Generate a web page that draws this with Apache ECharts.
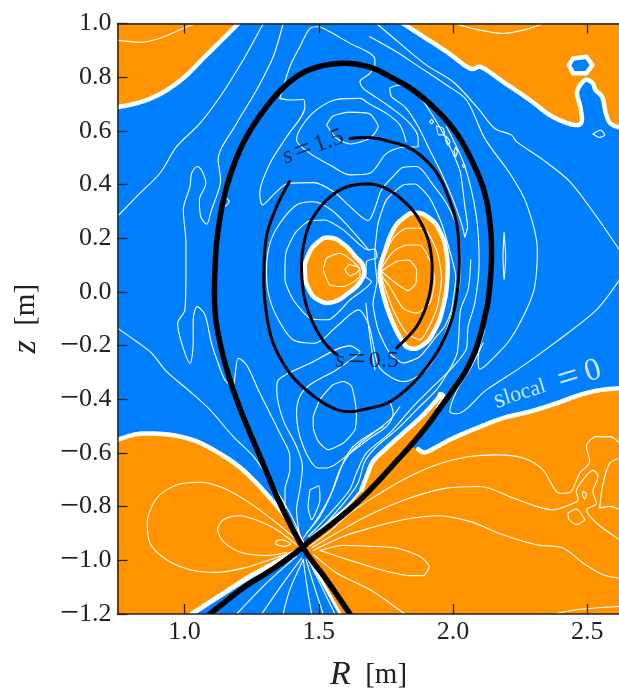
<!DOCTYPE html>
<html><head><meta charset="utf-8">
<style>html,body{margin:0;padding:0;background:#fff;overflow:hidden}#c{width:619px;height:688px}</style>
<script src="https://cdn.jsdelivr.net/npm/echarts@6/dist/echarts.min.js"></script>
</head><body><div id="c"></div>
<script>
const xTicks=[1.0,1.5,2.0,2.5];
const sliverCorner=[[1.437,-.95],[1.467,-.927],[1.553,-.861],[1.641,-.787],[1.715,-.712],[1.777,-.644],[1.839,-.576],[1.901,-.502],[1.945,-.43]];
const wTopLeft=[[.75,.688],[.821,.703],[.883,.725],[.945,.759],[1.008,.808],[1.069,.87],[1.132,.932],[1.2,1.0]];
const wTopRight=[[1.814,1.0],[1.889,.951],[1.976,.895],[2.062,.833],[2.106,.837],[2.186,.783],[2.286,.715],[2.36,.659],[2.422,.63],[2.466,.622],[2.48,.641],[2.474,.69],[2.462,.746],[2.491,.789],[2.519,.779],[2.531,.752],[2.556,.725],[2.569,.667],[2.586,.628],[2.62,.613]];
const wHole=[[2.447,.87],[2.497,.876],[2.519,.845],[2.497,.815],[2.447,.815],[2.431,.845]];
const wLowLeftTop=[[.75,-.551],[.821,-.53],[.896,-.528],[.97,-.536],[1.045,-.557],[1.119,-.595],[1.194,-.644],[1.256,-.7],[1.318,-.768],[1.38,-.843],[1.436,-.93]];
const wLowLeftBot=[[1.417,-.967],[1.243,-1.06],[1.026,-1.2]];
const wLowRight=[[2.62,-.359],[2.546,-.366],[2.472,-.384],[2.385,-.415],[2.286,-.446],[2.186,-.47],[2.087,-.508],[2.0,-.545],[1.938,-.578],[1.895,-.598],[1.87,-.586]];
const wLegRight=[[1.45,-.97],[1.58,-1.2]];
const wSliver=[[1.945,-.43],[1.965,-.392],[1.952,-.381],[1.944,-.396],[1.889,-.458],[1.814,-.526],[1.752,-.582],[1.702,-.632],[1.678,-.688],[1.659,-.737]];
const wSliverThin=[[1.659,-.737],[1.603,-.8],[1.516,-.874],[1.467,-.916]];
const lobeLeft=[[1.448,.07],[1.458,.131],[1.498,.187],[1.541,.202],[1.591,.179],[1.634,.134],[1.668,.088],[1.655,.038],[1.609,-.005],[1.553,-.038],[1.498,-.03],[1.461,.014]];
const lobeRight=[[1.727,.076],[1.746,.15],[1.777,.231],[1.814,.274],[1.858,.295],[1.913,.274],[1.951,.225],[1.976,.144],[1.979,.057],[1.963,-.055],[1.932,-.142],[1.889,-.197],[1.839,-.21],[1.808,-.179],[1.771,-.104],[1.742,-.018]];
const separatrix=[[1.616,-1.2],[1.529,-1.073],[1.44,-.951],[1.355,-.787],[1.281,-.613],[1.218,-.464],[1.169,-.328],[1.132,-.19],[1.113,-.067],[1.113,.082],[1.125,.231],[1.157,.392],[1.218,.554],[1.305,.69],[1.392,.783],[1.479,.833],[1.591,.852],[1.69,.837],[1.765,.802],[1.851,.752],[1.938,.678],[2.013,.591],[2.075,.479],[2.118,.368],[2.139,.243],[2.143,.119],[2.134,-.005],[2.124,-.067],[2.093,-.19],[2.05,-.29],[2.0,-.365],[1.951,-.433],[1.901,-.502],[1.839,-.576],[1.777,-.644],[1.715,-.712],[1.641,-.787],[1.553,-.861],[1.467,-.927],[1.44,-.951],[1.343,-1.023],[1.218,-1.103],[1.094,-1.2]];
const sOuter=[[1.39,.411],[1.343,.318],[1.305,.206],[1.295,.057],[1.303,-.067],[1.33,-.191],[1.392,-.303],[1.467,-.377],[1.541,-.427],[1.609,-.446],[1.69,-.433],[1.765,-.409],[1.851,-.34],[1.926,-.247],[1.976,-.154],[2.007,-.055],[2.023,.094],[2.015,.243],[1.982,.355],[1.932,.454],[1.851,.529],[1.765,.56],[1.69,.575],[1.616,.572]];
const sInner=[[1.789,-.21],[1.864,-.129],[1.907,-.03],[1.922,.082],[1.907,.194],[1.858,.293],[1.789,.361],[1.727,.395],[1.665,.402],[1.591,.386],[1.523,.336],[1.467,.256],[1.44,.156],[1.436,.07],[1.448,-.03],[1.479,-.117],[1.523,-.191],[1.568,-.235]];

const openLines=[
[[.75,.938],[.834,.93],[.908,.945],[.995,.982],[1.042,1.0]],
[[2.006,1.0],[2.087,.978],[2.186,.963],[2.273,.978],[2.335,1.0]],
[[.75,.281],[.821,.355],[.908,.442],[.97,.541],[1.057,.628],[1.132,.727],[1.218,.864],[1.293,1.0]],
[[1.367,1.0],[1.33,.876],[1.268,.752],[1.194,.628],[1.125,.492],[1.134,.417],[1.1,.305],[1.082,.252],[1.06,.281],[1.055,.343],[1.079,.405],[1.063,.454],[1.047,.467],[1.026,.442],[1.02,.392],[.995,.305],[1.005,.181],[1.005,.057],[1.001,-.067],[.974,-.117],[.989,-.191],[1.02,-.266],[1.032,-.191],[1.032,-.104],[1.047,-.055],[1.076,-.086],[1.1,-.191],[1.125,-.266],[1.15,-.328],[1.179,-.352],[1.2,-.247],[1.231,-.272],[1.28,-.377],[1.361,-.539],[1.392,-.613],[1.392,-.663],[1.374,-.737],[1.374,-.799],[1.398,-.861],[1.436,-.923]],
[[.75,-.135],[.821,-.185],[.877,-.228],[.933,-.297],[1.02,-.371],[1.094,-.439],[1.181,-.539],[1.256,-.613],[1.33,-.719],[1.392,-.824],[1.436,-.917]],
[[1.715,1.0],[1.802,.926],[1.901,.845],[2.0,.783],[2.093,.684],[2.155,.609],[2.217,.585],[2.236,.56],[2.335,.492],[2.435,.411],[2.534,.281],[2.62,.156]],
[[1.69,.951],[1.789,.895],[1.864,.845],[1.975,.771],[2.05,.715],[2.118,.572],[2.211,.442],[2.273,.33],[2.314,.156],[2.304,.02],[2.273,-.067],[2.211,-.179],[2.155,-.241],[2.1,-.288],[2.093,-.253],[2.118,-.141]],
[[2.62,.045],[2.534,-.067],[2.385,-.185],[2.248,-.284],[2.124,-.365],[2.013,-.454],[1.988,-.446],[2.015,-.365],[2.062,-.29],[2.112,-.191]],
[[1.355,.721],[1.392,.839],[1.429,.913],[1.467,.982],[1.498,.988],[1.541,.969],[1.616,.926],[1.69,.889],[1.709,.864],[1.709,.845],[1.69,.814],[1.653,.783],[1.665,.758],[1.69,.74],[1.764,.69],[1.839,.628],[1.87,.572],[1.87,.541],[1.814,.539],[1.752,.516],[1.69,.442],[1.616,.436],[1.541,.473],[1.467,.516],[1.417,.566],[1.436,.616],[1.491,.678],[1.566,.717],[1.653,.721],[1.69,.699],[1.752,.665],[1.802,.622],[1.825,.56]],
[[1.975,.616],[2.044,.467],[2.087,.281],[2.097,.107],[2.081,-.042],[2.056,-.129],[2.05,-.21],[2.0,-.278],[1.913,-.365],[1.851,-.427],[1.764,-.526],[1.677,-.601],[1.64,-.675],[1.615,-.737],[1.553,-.812],[1.491,-.88],[1.46,-.911]],
[[1.479,-.911],[1.516,-.874],[1.597,-.781],[1.646,-.712],[1.671,-.632],[1.715,-.576],[1.789,-.514],[1.87,-.433],[1.938,-.365],[1.975,-.309],[2.015,-.228],[2.028,-.067],[2.056,.008],[2.066,.12]],
[[1.355,.721],[1.392,.715],[1.442,.717],[1.448,.69],[1.38,.578],[1.318,.479],[1.28,.367],[1.29,.324],[1.336,.367],[1.386,.405],[1.479,.407],[1.554,.374],[1.616,.318],[1.684,.266],[1.709,.312],[1.733,.38],[1.777,.43],[1.814,.464],[1.864,.467],[1.926,.398],[1.975,.33],[2.013,.243],[2.028,.135],[2.023,.02],[2.0,-.067],[1.957,-.191],[1.901,-.29],[1.814,-.334],[1.727,-.284],[1.702,-.191],[1.684,-.117],[1.647,-.067],[1.566,-.129],[1.485,-.191],[1.405,-.179],[1.343,-.092],[1.312,-.005],[1.305,.082],[1.318,.181],[1.355,.256],[1.417,.324],[1.479,.336],[1.547,.305],[1.616,.237],[1.684,.159]],
[[1.675,-.042],[1.69,-.166],[1.709,-.29]],
[[1.653,-.222],[1.616,-.201],[1.467,-.266],[1.349,-.328],[1.343,-.365],[1.367,-.477],[1.417,-.576],[1.439,-.65],[1.429,-.737],[1.417,-.812],[1.429,-.911]],
[[1.764,-.408],[1.777,-.452],[1.752,-.501],[1.69,-.545],[1.616,-.601],[1.529,-.656],[1.498,-.656],[1.442,-.576],[1.417,-.452],[1.429,-.39],[1.467,-.346],[1.566,-.29],[1.653,-.228]],
[[1.802,-.427],[1.764,-.477],[1.64,-.576],[1.591,-.638],[1.553,-.737],[1.504,-.837],[1.454,-.899]],
[[1.739,-.502],[1.628,-.576],[1.578,-.663],[1.541,-.762],[1.491,-.849],[1.442,-.917]],
[[1.194,-1.2],[1.305,-1.085],[1.417,-.985]],
[[1.287,-1.2],[1.367,-1.085],[1.436,-.992]],
[[1.367,-1.2],[1.392,-1.109],[1.442,-.998]],
[[1.473,-1.2],[1.454,-1.085],[1.442,-.998]],
[[1.516,-1.2],[1.479,-1.085],[1.452,-.998]],
[[1.56,-1.2],[1.504,-1.085],[1.457,-.992]],
[[1.417,-.923],[1.343,-.861],[1.243,-.787],[1.144,-.731],[1.057,-.709],[.97,-.719],[.896,-.768],[.861,-.861],[.871,-.936],[.933,-.998],[1.02,-1.035],[1.119,-1.045],[1.218,-1.029],[1.318,-.998],[1.405,-.967]],
[[1.417,-.942],[1.343,-.886],[1.28,-.855],[1.206,-.834],[1.144,-.849],[1.123,-.886],[1.15,-.936],[1.218,-.973],[1.305,-.982],[1.38,-.97]],
[[1.467,-.946],[1.541,-.892],[1.616,-.824],[1.69,-.774],[1.814,-.7],[1.938,-.644],[2.062,-.613],[2.162,-.607],[2.261,-.619],[2.335,-.663],[2.397,-.75],[2.435,-.747],[2.472,-.675],[2.509,-.632],[2.497,-.576],[2.534,-.539],[2.584,-.539],[2.62,-.563]],
[[2.62,-.619],[2.584,-.638],[2.559,-.712],[2.546,-.805],[2.584,-.799],[2.62,-.812]],
[[1.473,-.954],[1.566,-.898],[1.69,-.83],[1.839,-.768],[1.975,-.731],[2.1,-.725],[2.224,-.768],[2.31,-.799],[2.373,-.812],[2.435,-.793],[2.466,-.774],[2.459,-.743],[2.484,-.7],[2.521,-.665],[2.54,-.688],[2.521,-.743],[2.534,-.787],[2.497,-.812],[2.534,-.861],[2.62,-.923]],
[[1.479,-.963],[1.591,-.911],[1.69,-.88],[1.814,-.849],[1.938,-.834],[2.062,-.855],[2.186,-.905],[2.31,-.942],[2.41,-.954],[2.484,-1.01],[2.559,-1.054],[2.62,-1.066]],
[[1.481,-.979],[1.566,-1.047],[1.69,-1.109],[1.764,-1.159],[1.82,-1.2]],
[[2.379,-1.2],[2.459,-1.184],[2.62,-1.172]],
[[1.138,.361],[1.166,.336],[1.15,.318]]
];
const closedLines=[
[[1.529,.622],[1.553,.655],[1.616,.67],[1.69,.663],[1.721,.616],[1.69,.572],[1.616,.551],[1.566,.572]],
[[2.044,.204],[2.054,.243],[2.044,.318],[2.025,.454],[1.963,.591],[1.876,.727],[1.802,.771],[1.764,.758],[1.771,.727],[1.82,.69],[1.87,.616],[1.913,.529],[1.957,.442],[2.0,.343],[2.031,.256]],
[[1.374,.07],[1.377,.144],[1.411,.218],[1.46,.262],[1.522,.268],[1.591,.231],[1.653,.175],[1.684,.156],[1.709,.16],[1.717,.129],[1.678,.113],[1.675,.057],[1.696,.039],[1.616,-.03],[1.535,-.104],[1.467,-.098],[1.405,-.03],[1.374,.045]],
[[1.709,.159],[1.721,.256],[1.752,.343],[1.814,.398],[1.858,.402],[1.913,.349],[1.957,.256],[1.99,.144],[2.01,.057],[1.994,-.067],[1.969,-.129],[1.938,-.166],[1.876,-.241],[1.814,-.265],[1.764,-.228],[1.721,-.141],[1.702,-.042],[1.717,.045],[1.715,.057],[1.709,.125]],
[[1.479,-.464],[1.504,-.402],[1.553,-.346],[1.591,-.334],[1.622,-.352],[1.64,-.452],[1.634,-.514],[1.591,-.563],[1.535,-.588],[1.498,-.557],[1.479,-.501]],
[[1.467,-.737],[1.501,-.722],[1.504,-.774],[1.473,-.849],[1.46,-.799]],
[[1.343,-.926],[1.361,-.923],[1.396,-.939],[1.374,-.948],[1.339,-.939]],
[[2.484,-.743],[2.497,-.753],[2.49,-.772],[2.482,-.756]],
[[2.428,-.824],[2.459,-.809],[2.49,-.849],[2.459,-.867],[2.431,-.846]],
[[1.504,-.963],[1.591,-.944],[1.69,-.948],[1.789,-.954],[1.876,-.985],[1.911,-1.023],[1.889,-1.057],[1.839,-1.057],[1.752,-1.041],[1.69,-1.023],[1.591,-.992]],
[[1.516,.082],[1.529,.125],[1.578,.144],[1.628,.113],[1.653,.082],[1.653,.06],[1.591,.02],[1.541,.026]],
[[1.597,.082],[1.613,.101],[1.653,.088],[1.64,.07],[1.616,.06]],
[[1.733,.076],[1.789,.113],[1.833,.119],[1.864,.082],[1.861,.032],[1.833,.005],[1.796,.026]],
[[1.733,.088],[1.777,.15],[1.827,.175],[1.876,.175],[1.913,.119],[1.932,.045],[1.913,-.042],[1.864,-.079],[1.814,-.061],[1.764,.02],[1.733,.067]],
[[1.73,.101],[1.777,.2],[1.827,.237],[1.889,.237],[1.938,.157],[1.957,.057],[1.938,-.067],[1.876,-.178],[1.827,-.154],[1.777,-.067],[1.733,.057]],
[[2.19,.221],[2.196,.132],[2.19,.045],[2.186,.132]],
[[1.92,.643],[1.927,.634],[1.92,.626],[1.913,.634]],
[[1.938,.618],[1.963,.609],[1.969,.585],[1.947,.585]],
[[1.973,.581],[1.988,.56],[1.982,.545],[1.973,.563]],
[[2.01,.539],[2.016,.523],[2.01,.504],[2.004,.523]],
[[2.04,.476],[2.045,.47],[2.04,.464],[2.035,.47]],
[[2.521,.588],[2.55,.603],[2.565,.585],[2.546,.575]]
];
const blue='#0080ff', orange='#ff9400';
const orangeFills=[
  wTopLeft.concat([[.75,1.0]]),
  wTopRight.concat([[2.62,1.0]]),
  wLowLeftTop.concat([[1.44,-.951]],wLowLeftBot,[[.75,-1.2]]),
  wLowRight.concat(sliverCorner.slice(1,7).reverse(),[[1.44,-.951],[1.58,-1.2],[2.62,-1.2]]),
  wSliver.concat(wSliverThin,sliverCorner)
];
const lobes=[lobeLeft,lobeRight];
const close=a=>a.concat([a[0]]);
function polySeries(list,fill,stroke,z,smooth){
  return {type:'custom',coordinateSystem:'cartesian2d',z,silent:true,clip:true,data:list.map((_,i)=>[i]),
    renderItem:(p,api)=>({type:'polygon',shape:{points:list[p.dataIndex].map(q=>api.coord(q)),smooth:smooth||0},
      style:{fill,stroke:stroke||fill,lineWidth:stroke?4.5:0.5,lineJoin:'round'}})};
}
function lineSeries(data,color,width,z,smooth){
  return {type:'line',data,showSymbol:false,symbol:'none',silent:true,clip:true,z,smooth:smooth==null?0.3:smooth,
    lineStyle:{color,width,cap:'round',join:'round'},animation:false};
}
// Rounds a polyline of screen points for drawing only: the curve still passes through every data point.
function rounded(pts){
  const out=[];
  for(let i=0;i<pts.length-1;i++){
    const a=pts[Math.max(i-1,0)],b=pts[i],c=pts[i+1],d=pts[Math.min(i+2,pts.length-1)];
    for(let s=0;s<12;s++){
      const t=s/12,t2=t*t,t3=t2*t;
      out.push([0,1].map(k=>.5*(2*b[k]+(c[k]-a[k])*t+(2*a[k]-5*b[k]+4*c[k]-d[k])*t2+(3*b[k]-a[k]-3*c[k]+d[k])*t3)));
    }
  }
  out.push(pts[pts.length-1]);
  return out;
}
function curveSeries(data,color,width,z){
  return {type:'custom',coordinateSystem:'cartesian2d',z,silent:true,clip:true,data:[[0]],
    renderItem:(p,api)=>({type:'polyline',shape:{points:rounded(data.map(q=>api.coord(q)))},
      style:{stroke:color,fill:null,lineWidth:width,lineCap:'round',lineJoin:'round'}})};
}
function label(pos,rot,fmt,rich){
  return {type:'scatter',data:[pos],symbolSize:1,itemStyle:{color:'rgba(0,0,0,0)'},silent:true,z:7,
    label:{show:true,position:'inside',rotate:rot,formatter:fmt,rich}};
}
const serif='"Liberation Serif"';
const sRich={i:{fontFamily:serif,fontStyle:'italic',fontSize:24,color:'#111'},n:{fontFamily:serif,fontSize:24,color:'#111'},e:{fontFamily:serif,fontSize:31,color:'#111'}};
const series=[
  polySeries(orangeFills,orange,null,1),
  polySeries(lobes,orange,'#fff',1,0.5),
  ...openLines.map(a=>lineSeries(a,'#fff',1.1,2)),
  ...closedLines.map(a=>lineSeries(close(a),'#fff',1.1,2,0.2)),
  ...[wTopLeft,wTopRight,wLowLeftTop,wLowRight,wSliver].map(a=>curveSeries(a,'#fff',4.5,3)),
  lineSeries(wLowLeftBot,'#fff',5,3,0),
  lineSeries(wLegRight,'#fff',3,3,0),
  curveSeries(wSliverThin,'#fff',2,3),
  polySeries([wHole],blue,'#fff',3),
  curveSeries(sOuter,'#000',3,4),
  curveSeries(sInner,'#000',3,4),
  curveSeries(separatrix,'#000',5.5,5),
  label([1.478,.54],20,'{i|s} {e|=} {n|1.5}',sRich),
  label([1.679,-.257],0,'{i|s} {e|=} {n|0.5}',sRich),
  label([2.352,-.348],17,'{a|s}{b|local}{a|\u2002}{e|=}{a| }{z|0}',{a:{fontFamily:serif,fontSize:27,color:'#fff'},b:{fontFamily:serif,fontSize:22,color:'#fff',verticalAlign:'middle'},e:{fontFamily:serif,fontSize:38,color:'#fff'},z:{fontFamily:serif,fontSize:32,color:'#fff'}})
];
const axisColor='#222';
const tickStyle={show:true,inside:true,length:10,lineStyle:{color:axisColor,width:1.3}};
const lineStyle={show:true,onZero:false,lineStyle:{color:axisColor,width:1.5}};
const nameRich={i:{fontFamily:serif,fontStyle:'italic',fontSize:34,color:'#222'},n:{fontFamily:serif,fontSize:29,color:'#222'}};
const labelRich={d:{fontFamily:serif,fontSize:26,color:'#222'},m:{fontFamily:serif,fontSize:34,color:'#222'}};
const chart=echarts.init(document.getElementById('c'),null,{renderer:'canvas'});
chart.setOption({
  animation:false,
  backgroundColor:'#fff',
  grid:{left:117.5,top:23.5,width:502,height:590.5,show:true,backgroundColor:blue,borderWidth:0,outerBoundsMode:'none',containLabel:false},
  xAxis:[{type:'value',min:.75,max:2.62,position:'bottom',z:10,splitLine:{show:false},axisLine:lineStyle,
      axisTick:{...tickStyle,customValues:xTicks},
      axisLabel:{customValues:xTicks,formatter:v=>v.toFixed(1),fontFamily:serif,fontSize:26,color:'#222',margin:5},
      name:'{i|R}{n|\u2002[m]}',nameLocation:'middle',nameGap:44,nameTextStyle:{rich:nameRich}},
    {type:'value',min:.75,max:2.62,position:'top',z:10,splitLine:{show:false},axisLine:lineStyle,
      axisTick:{...tickStyle,customValues:xTicks},axisLabel:{show:false}}],
  yAxis:[{type:'value',min:-1.2,max:1.0,interval:.2,position:'left',z:10,splitLine:{show:false},axisLine:lineStyle,axisTick:tickStyle,
      axisLabel:{formatter:v=>(v<-1e-6?'{m|\u2212}':'')+'{d|'+Math.abs(v).toFixed(1)+'}',rich:labelRich,margin:6},
      name:'{i|z}{n|\u2002[m]}',nameLocation:'middle',nameGap:74,nameRotate:90,nameTextStyle:{rich:nameRich}}],
  series
});
</script></body></html>
